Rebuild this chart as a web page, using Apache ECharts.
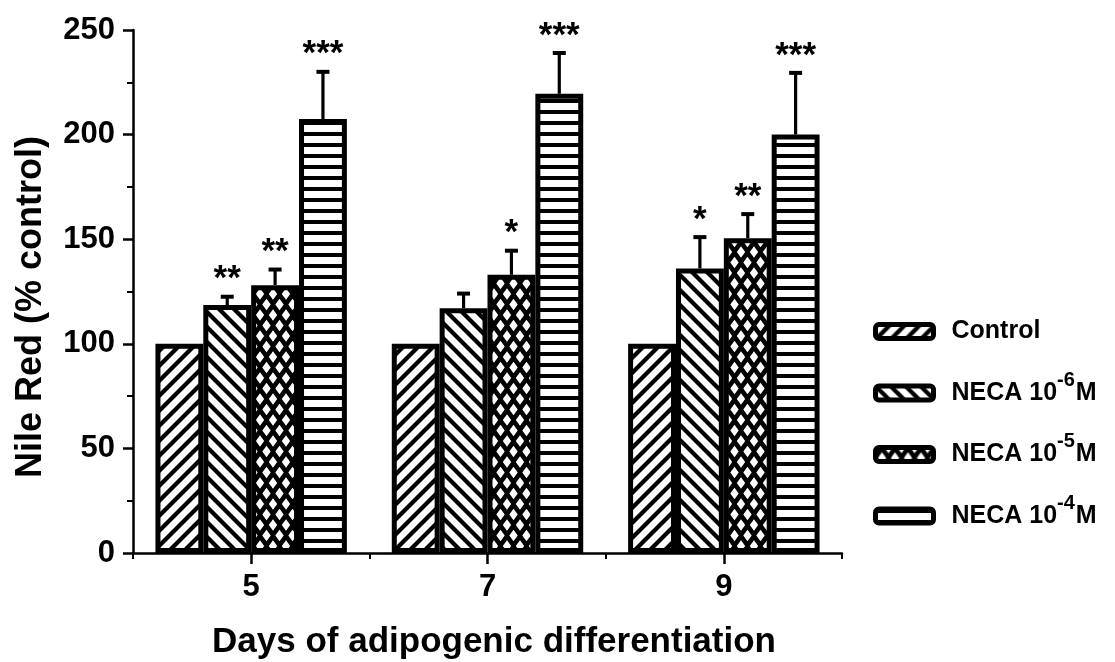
<!DOCTYPE html>
<html>
<head>
<meta charset="utf-8">
<script src="https://cdn.jsdelivr.net/npm/echarts@6/dist/echarts.min.js"></script>
<style>
html,body{margin:0;padding:0;background:#fff;}
#chart{width:1115px;height:662px;}
</style>
</head>
<body>
<div id="chart"></div>
<script>
// ---- data ----
const days = ['5', '7', '9'];
const seriesNames = ['Control', 'NECA 10-6M', 'NECA 10-5M', 'NECA 10-4M'];
const control = [100, 100, 100];
const neca6 = [118.5, 117, 136];
const neca5 = [128, 133, 150.5];
const neca4 = [207.5, 219.5, 200];
const err6 = [4, 7, 15];
const err5 = [7.5, 11.5, 11.5];
const err4 = [22.5, 19.5, 29.5];
const stars6 = ['**', '', '*'];
const stars5 = ['**', '*', '**'];
const stars4 = ['***', '***', '***'];
const yTicks = [0, 50, 100, 150, 200, 250];

// ---- patterns ----
function makeCanvas(w, h) {
  const c = document.createElement('canvas');
  c.width = w; c.height = h;
  return c;
}
function diagPattern(dir) {
  const p = 15;
  const c = makeCanvas(p, p);
  const ctx = c.getContext('2d');
  ctx.fillStyle = '#fff'; ctx.fillRect(0, 0, p, p);
  ctx.strokeStyle = '#000'; ctx.lineWidth = 4.2; ctx.lineCap = 'square';
  for (let k = -1; k <= 1; k++) {
    ctx.beginPath();
    if (dir === '/') { ctx.moveTo(k * p, p); ctx.lineTo(k * p + p, 0); }
    else { ctx.moveTo(k * p, 0); ctx.lineTo(k * p + p, p); }
    ctx.stroke();
  }
  return { image: c, repeat: 'repeat' };
}
function crossPattern() {
  const w = 13, h = 21;
  const c = makeCanvas(w, h);
  const ctx = c.getContext('2d');
  ctx.fillStyle = '#000'; ctx.fillRect(0, 0, w, h);
  ctx.fillStyle = '#fff';
  const hw = 4.2, hh = 5.8;
  const centers = [[w / 2, h / 2], [0, 0], [w, 0], [0, h], [w, h]];
  centers.forEach(([x, y]) => {
    ctx.beginPath();
    ctx.moveTo(x - hw, y); ctx.lineTo(x, y - hh); ctx.lineTo(x + hw, y); ctx.lineTo(x, y + hh);
    ctx.closePath(); ctx.fill();
  });
  return { image: c, repeat: 'repeat' };
}
function hstripePattern() {
  const c = makeCanvas(4, 11);
  const ctx = c.getContext('2d');
  ctx.fillStyle = '#fff'; ctx.fillRect(0, 0, 4, 11);
  ctx.fillStyle = '#000'; ctx.fillRect(0, 0, 4, 4);
  return { image: c, repeat: 'repeat' };
}
const patterns = [diagPattern('/'), diagPattern('\\'), crossPattern(), hstripePattern()];

const FONT = "'Liberation Sans', Arial, sans-serif";
const GAP = 0.19;
const barValues = [control, neca6, neca5, neca4];
const errValues = [null, err6, err5, err4];
const starValues = [null, stars6, stars5, stars4];

const barSeries = barValues.map((vals, i) => ({
  name: seriesNames[i],
  type: 'bar',
  xAxisIndex: 0,
  data: vals,
  barGap: '0%',
  barCategoryGap: (GAP * 100) + '%',
  itemStyle: { color: patterns[i], borderColor: '#000', borderWidth: 5 },
  z: 3
}));

const errSeries = [];
for (let s = 1; s <= 3; s++) {
  const data = days.map((d, i) => [i, barValues[s][i], errValues[s][i], starValues[s][i]]);
  errSeries.push({
    type: 'custom',
    name: 'err' + s,
    xAxisIndex: 0,
    z: 2,
    silent: true,
    data: data,
    renderItem: function (params, api) {
      const idx = api.value(0), val = api.value(1), e = api.value(2);
      const star = data[params.dataIndex][3];
      const base = api.coord([idx, val]);
      const top = api.coord([idx, val + e]);
      const band = api.size([1, 0])[0];
      const bw = band * (1 - GAP) / 4;
      const cx = base[0] + (s - 1.5) * bw;
      const children = [
        { type: 'line', shape: { x1: cx, y1: base[1], x2: cx, y2: top[1] }, style: { stroke: '#000', lineWidth: 3.2 } },
        { type: 'line', shape: { x1: cx - 6.5, y1: top[1], x2: cx + 6.5, y2: top[1] }, style: { stroke: '#000', lineWidth: 4 } }
      ];
      if (star) {
        children.push({
          type: 'text',
          style: {
            text: star, x: cx, y: top[1] - 17,
            align: 'center', verticalAlign: 'middle',
            font: 'bold 35px ' + FONT, fill: '#000'
          }
        });
      }
      return { type: 'group', children: children };
    }
  });
}

const supName = {
  'Control': '{n|Control}',
  'NECA 10-6M': '{n|NECA 10}{sup|-6}{n|M}',
  'NECA 10-5M': '{n|NECA 10}{sup|-5}{n|M}',
  'NECA 10-4M': '{n|NECA 10}{sup|-4}{n|M}'
};

const option = {
  animation: false,
  backgroundColor: '#fff',
  grid: { left: 133, right: 273, top: 30, bottom: 109, containLabel: false },
  xAxis: [
    {
      type: 'category', data: days, position: 'bottom',
      axisLine: { show: true, lineStyle: { color: '#000', width: 2.5 } },
      axisTick: { show: true, alignWithLabel: true, inside: false, length: 11, lineStyle: { color: '#000', width: 2.5 } },
      axisLabel: { color: '#000', fontFamily: FONT, fontWeight: 'bold', fontSize: 31, margin: 19 },
      splitLine: { show: false }
    },
    {
      type: 'category', data: days, position: 'bottom',
      axisLine: { show: false },
      axisTick: { show: true, inside: false, length: 6, lineStyle: { color: '#000', width: 2 } },
      axisLabel: { show: false },
      splitLine: { show: false }
    }
  ],
  yAxis: {
    type: 'value', min: yTicks[0], max: yTicks[yTicks.length - 1], interval: 50,
    axisLine: { show: true, lineStyle: { color: '#000', width: 2.5 } },
    axisTick: { show: true, inside: false, length: 10, lineStyle: { color: '#000', width: 2.5 } },
    minorTick: { show: true, splitNumber: 2, length: 6, lineStyle: { color: '#000', width: 2 } },
    axisLabel: { color: '#000', fontFamily: FONT, fontWeight: 'bold', fontSize: 31, margin: 18 },
    splitLine: { show: false },
    minorSplitLine: { show: false }
  },
  legend: {
    orient: 'vertical',
    left: 868, top: 314,
    itemWidth: 58, itemHeight: 14, itemGap: 26,
    icon: 'roundRect',
    itemStyle: { borderColor: '#000', borderWidth: 5 },
    data: seriesNames,
    formatter: function (name) { return supName[name]; },
    textStyle: {
      color: '#000', fontFamily: FONT, fontWeight: 'bold', fontSize: 25,
      padding: [0, 0, 0, 13],
      rich: {
        n: { fontFamily: FONT, fontWeight: 'bold', fontSize: 25, lineHeight: 46, color: '#000' },
        sup: { fontFamily: FONT, fontWeight: 'bold', fontSize: 20, lineHeight: 46, verticalAlign: 'top', color: '#000', padding: [0, 1, 0, 0] }
      }
    }
  },
  graphic: [
    {
      type: 'text', x: 31, y: 307, rotation: Math.PI / 2,
      style: { text: 'Nile Red (% control)', align: 'center', verticalAlign: 'middle', font: 'bold 36px ' + FONT, fill: '#000' }
    },
    {
      type: 'text', x: 494, y: 642,
      style: { text: 'Days of adipogenic differentiation', align: 'center', verticalAlign: 'middle', font: 'bold 35px ' + FONT, fill: '#000' }
    }
  ],
  series: barSeries.concat(errSeries)
};

const chart = echarts.init(document.getElementById('chart'), null, { renderer: 'canvas' });
chart.setOption(option);
</script>
</body>
</html>
